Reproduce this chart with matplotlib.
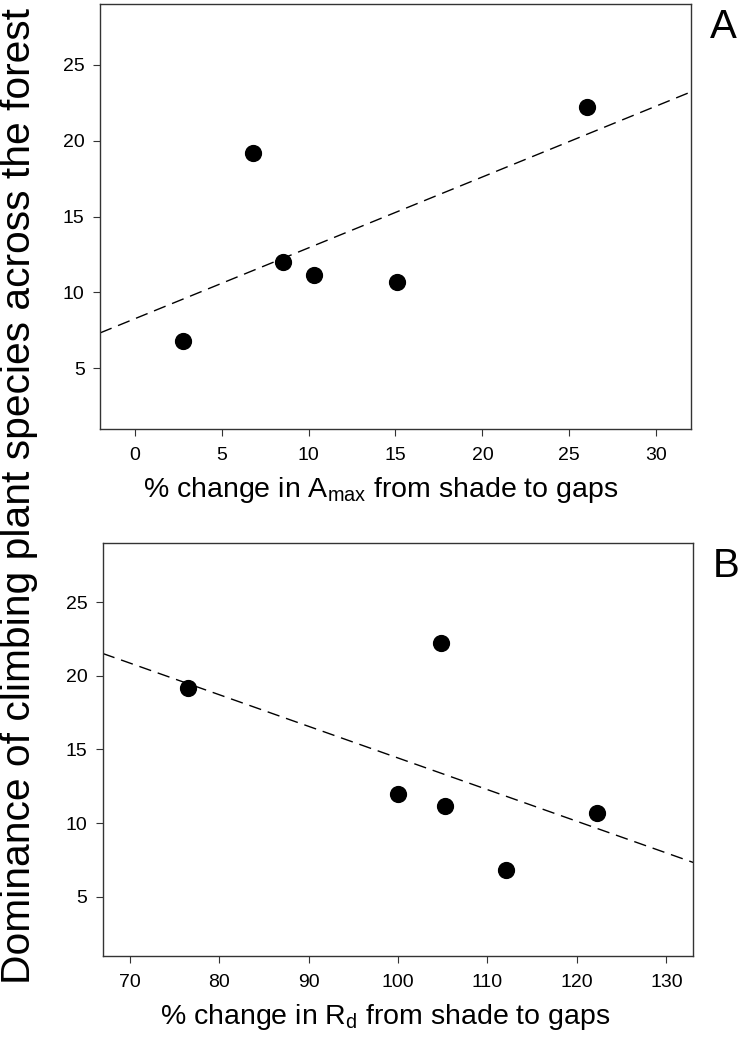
import numpy as np
import matplotlib
matplotlib.use("Agg")
import matplotlib.pyplot as plt

plt.rcParams['font.family'] = ['Liberation Sans', 'DejaVu Sans']
plt.rcParams['mathtext.fontset'] = 'custom'
plt.rcParams['mathtext.rm'] = 'Liberation Sans'
plt.rcParams['mathtext.it'] = 'Liberation Sans'

# dominance of climbing species (same for both panels)
dominance = [6.8, 19.2, 12.0, 11.15, 10.7, 22.2]
# % change in Amax
amax_change = [2.8, 6.8, 8.5, 10.3, 15.1, 26.0]
# % change in Rd (same species order)
rd_change = [112.1, 76.5, 100.0, 105.3, 122.2, 104.8]

fig = plt.figure(figsize=(7.43, 10.58), dpi=100)
axA = fig.add_axes([0.1346, 0.5945, 0.7954, 0.4017])
axB = fig.add_axes([0.1382, 0.0967, 0.7949, 0.3898])

panels = [
    (axA, amax_change, (-2, 32), [0, 5, 10, 15, 20, 25, 30],
     r"% change in A$_{\mathrm{max}}$ from shade to gaps", 0.474, "A"),
    (axB, rd_change, (67, 133), [70, 80, 90, 100, 110, 120, 130],
     r"% change in R$_{\mathrm{d}}$ from shade to gaps", 0.479, "B"),
]

for ax, xs, xlim, xticks, xlabel, xlab_pos, letter in panels:
    slope, icpt = np.polyfit(xs, dominance, 1)
    xl = np.array(xlim, dtype=float)
    ax.plot(xl, icpt + slope * xl, color="black", lw=1.0,
            dashes=(9, 5))
    ax.scatter(xs, dominance, s=130, color="black", zorder=3)

    ax.set_xlim(*xlim)
    ax.set_ylim(1, 29)
    ax.set_xticks(xticks)
    ax.set_yticks([5, 10, 15, 20, 25])
    ax.tick_params(direction="out", length=5, width=0.8, labelsize=14,
                   color="#333333")
    ax.tick_params(axis="x", pad=8)
    ax.tick_params(axis="y", pad=6)
    for sp in ax.spines.values():
        sp.set_color("#333333")
        sp.set_linewidth(1.0)

    ax.set_xlabel(xlabel, fontsize=20.5, labelpad=8)
    ax.xaxis.label.set_x(xlab_pos)
    ax.text(1.055, 0.99, letter, transform=ax.transAxes, fontsize=29,
            ha="center", va="top")

fig.text(0.025, 0.531, "Dominance of climbing plant species across the forest",
         rotation=90, fontsize=29.3, ha="center", va="center")

fig.savefig("out.png", dpi=100)
